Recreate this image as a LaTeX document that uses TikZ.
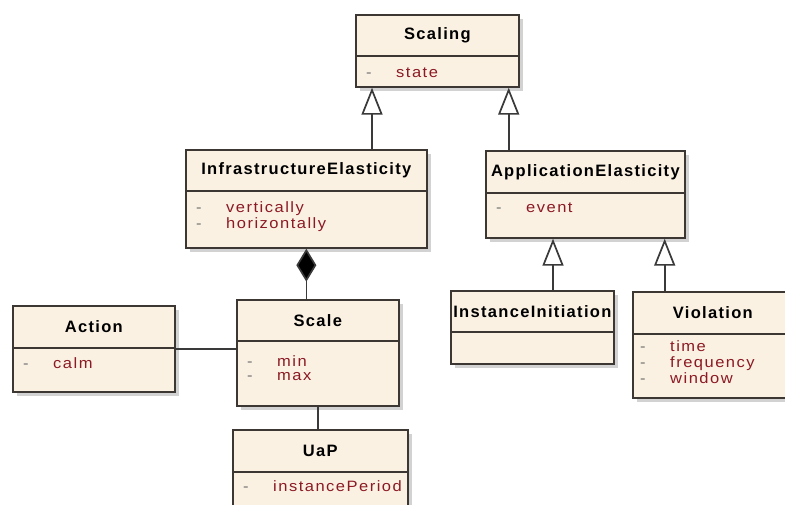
\documentclass[tikz,border=0pt]{standalone}
\usepackage{fontspec}
\setmainfont{Liberation Sans}
\newfontfamily\namefont{Liberation Sans}[LetterSpace=8]
\newfontfamily\attrfont{Liberation Sans}[LetterSpace=10,FakeStretch=1.1]
\usetikzlibrary{arrows.meta,positioning,shadows}
\definecolor{boxfill}{HTML}{FAF1E3}
\definecolor{boxline}{HTML}{3C3732}
\definecolor{attrred}{HTML}{8C1923}
\definecolor{dashgray}{HTML}{707070}
\definecolor{wire}{HTML}{3A3A3A}
\newcommand{\attr}[1]{\makebox[30pt][l]{\textcolor{dashgray}{-}}\textcolor{attrred}{#1}\strut}

\begin{document}
\begin{tikzpicture}[x=1pt, y=-1pt,
    classbox/.style={draw=boxline, fill=boxfill, line width=1.7pt, anchor=north west, inner sep=0pt,
      drop shadow={shadow xshift=4pt, shadow yshift=-4pt, fill=black!25, opacity=.7}},
    classname/.style={draw=boxline, fill=boxfill, line width=1.7pt, inner sep=0pt,
      font=\namefont\bfseries\fontsize{16.5}{16.5}\selectfont},
    attrs/.style={anchor=north west, inner sep=0pt, align=left,
      font=\attrfont\fontsize{15}{14}\selectfont},
    gen/.style={-{Triangle[open, length=27pt, width=21pt, fill=white]}, line width=1.7pt, wire},
    comp/.style={{Diamond[length=33pt, width=20pt, fill=black]}-, line width=1.7pt, wire},
    link/.style={line width=1.7pt, wire},
  ]
  \useasboundingbox[fill=white] (0,0) rectangle (785,504);

  % classes
  \node[classbox, minimum width=163pt, minimum height=72pt] (scaling) at (355,14) {};
  \node[classname, minimum width=163pt, minimum height=41pt, below=0pt of scaling.north] (scalingname) {Scaling};
  \node[attrs, below right=11pt and 11pt of scalingname.south west] (scalingattr) {\attr{state}};

  \node[classbox, minimum width=241pt, minimum height=98pt] (infra) at (185,149) {};
  \node[classname, minimum width=241pt, minimum height=41pt, below=0pt of infra.north] (infraname) {InfrastructureElasticity};
  \node[attrs, below right=10pt and 11pt of infraname.south west] (infraattr) {\attr{vertically}\\\attr{horizontally}};

  \node[classbox, minimum width=199pt, minimum height=87pt] (appel) at (485,150) {};
  \node[classname, minimum width=199pt, minimum height=42pt, below=0pt of appel.north] (appelname) {ApplicationElasticity};
  \node[attrs, below right=9pt and 11pt of appelname.south west] (appelattr) {\attr{event}};

  \node[classbox, minimum width=162pt, minimum height=86pt] (action) at (12,305) {};
  \node[classname, minimum width=162pt, minimum height=42pt, below=0pt of action.north] (actionname) {Action};
  \node[attrs, below right=9pt and 11pt of actionname.south west] (actionattr) {\attr{calm}};

  \node[classbox, minimum width=162pt, minimum height=106pt] (scale) at (236,299) {};
  \node[classname, minimum width=162pt, minimum height=41pt, below=0pt of scale.north] (scalename) {Scale};
  \node[attrs, below right=14pt and 11pt of scalename.south west] (scaleattr) {\attr{min}\\\attr{max}};

  \node[classbox, minimum width=175pt, minimum height=90pt] (uap) at (232,429) {};
  \node[classname, minimum width=175pt, minimum height=42pt, below=0pt of uap.north] (uapname) {UaP};
  \node[attrs, below right=8pt and 11pt of uapname.south west] (uapattr) {\attr{instancePeriod}};

  \node[classbox, minimum width=163pt, minimum height=73pt] (init) at (450,290) {};
  \node[classname, minimum width=163pt, minimum height=41pt, below=0pt of init.north] (initname) {InstanceInitiation};

  \node[classbox, minimum width=160pt, minimum height=106pt] (viol) at (632,291) {};
  \node[classname, minimum width=160pt, minimum height=42pt, below=0pt of viol.north] (violname) {Violation};
  \node[attrs, below right=6pt and 8pt of violname.south west] (violattr) {\attr{time}\\\attr{frequency}\\\attr{window}};

  % generalisations
  \coordinate (s1) at ([xshift=17pt]scaling.south west);
  \coordinate (s2) at ([xshift=-11pt]scaling.south east);
  \coordinate (a1) at ([xshift=68pt]appel.south west);
  \coordinate (a2) at ([xshift=-21pt]appel.south east);
  \draw[gen] (s1 |- infra.north) -- (s1);
  \draw[gen] (s2 |- appel.north) -- (s2);
  \draw[gen] (a1 |- init.north) -- (a1);
  \draw[gen] (a2 |- viol.north) -- (a2);

  % composition and associations
  \draw[comp] (infra.south) -- (infra.south |- scale.north);
  \draw[link] (action.east) -- (action.east -| scale.west);
  \draw[link] (scale.south) -- (scale.south |- uap.north);
\end{tikzpicture}
\end{document}
